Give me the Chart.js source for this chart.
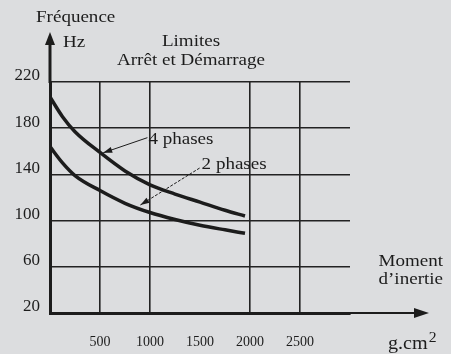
<!DOCTYPE html>
<html>
<head>
<meta charset="utf-8">
<script src="https://cdn.jsdelivr.net/npm/chart.js@4"></script>
<style>
  html, body { margin: 0; padding: 0; background: #dcdddf; }
  #wrap { width: 451px; height: 354px; }
</style>
</head>
<body>
<div id="wrap"><canvas id="c" width="451" height="354"></canvas></div>
<script>
// ---- data ----
const inertia = [0, 125, 250, 500, 750, 1000, 1250, 1500, 1750, 1950];      // g.cm²
const phases4 = [207, 190, 177, 159, 143, 131, 123, 116, 109, 104];       // Hz
const phases2 = [164, 150, 139, 126, 115, 107, 101, 96, 92, 89];          // Hz
const xTickLabels = [500, 1000, 1500, 2000, 2500];
const yTickLabels = [20, 60, 100, 140, 180, 220];
const xGridHidden = [0, 1500, 3000];
// annotation anchors (data coordinates)
const label4 = { text: '4 phases', from: [974, 171.8], to: [532, 158.7] };
const label2 = { text: '2 phases', from: [1496, 145.5], to: [904, 113.5] };

const INK = '#1c1c1c';
const SERIF = '"Liberation Serif", "Times New Roman", serif';

function toPts(xs, ys) { return xs.map((x, i) => ({ x: x, y: ys[i] })); }

// draws text stretched horizontally, returns right edge x
function txt(ctx, s, x, y, align, size) {
  ctx.save();
  ctx.font = size + 'px ' + SERIF;
  ctx.fillStyle = INK;
  ctx.textBaseline = 'alphabetic';
  const sx = 1.12;
  const w = ctx.measureText(s).width * sx;
  let left = x;
  if (align === 'center') left = x - w / 2;
  else if (align === 'right') left = x - w;
  ctx.translate(left, y);
  ctx.scale(sx, 1);
  ctx.textAlign = 'left';
  ctx.fillText(s, 0, 0);
  ctx.restore();
  return left + w;
}

function arrowHead(ctx, x1, y1, x2, y2, len, half) {
  const a = Math.atan2(y2 - y1, x2 - x1);
  ctx.beginPath();
  ctx.moveTo(x2, y2);
  ctx.lineTo(x2 - len * Math.cos(a) + half * Math.sin(a), y2 - len * Math.sin(a) - half * Math.cos(a));
  ctx.lineTo(x2 - len * Math.cos(a) - half * Math.sin(a), y2 - len * Math.sin(a) + half * Math.cos(a));
  ctx.closePath();
  ctx.fill();
}

const bgPlugin = {
  id: 'bg',
  beforeDraw(chart) {
    const ctx = chart.ctx;
    ctx.save();
    ctx.fillStyle = '#dcdddf';
    ctx.fillRect(0, 0, chart.width, chart.height);
    ctx.restore();
  }
};

const decoPlugin = {
  id: 'deco',
  afterDraw(chart) {
    const ctx = chart.ctx;
    const ca = chart.chartArea;
    const xs = chart.scales.x, ys = chart.scales.y;
    ctx.save();
    ctx.strokeStyle = INK;
    ctx.fillStyle = INK;
    // y axis extension + arrow
    ctx.lineWidth = 3;
    ctx.beginPath();
    ctx.moveTo(ca.left, ca.top + 1);
    ctx.lineTo(ca.left, 42);
    ctx.stroke();
    arrowHead(ctx, ca.left, 60, ca.left, 32, 13, 5);
    // x axis extension + arrow
    ctx.lineWidth = 2.2;
    ctx.beginPath();
    ctx.moveTo(ca.right - 1, ca.bottom);
    ctx.lineTo(416, ca.bottom);
    ctx.stroke();
    arrowHead(ctx, 380, ca.bottom, 429, ca.bottom, 15, 5);

    // annotation arrows
    const P = (p) => [xs.getPixelForValue(p[0]), ys.getPixelForValue(p[1])];
    let a = P(label4.from), b = P(label4.to);
    ctx.lineWidth = 1;
    ctx.beginPath(); ctx.moveTo(a[0], a[1]); ctx.lineTo(b[0], b[1]); ctx.stroke();
    arrowHead(ctx, a[0], a[1], b[0], b[1], 9, 3);
    txt(ctx, label4.text, a[0] + 1, a[1] + 6, 'left', 17);

    a = P(label2.from); b = P(label2.to);
    ctx.setLineDash([3, 1.5]);
    ctx.beginPath(); ctx.moveTo(a[0], a[1]); ctx.lineTo(b[0], b[1]); ctx.stroke();
    ctx.setLineDash([]);
    arrowHead(ctx, a[0], a[1], b[0], b[1], 9, 3);
    txt(ctx, label2.text, a[0] + 2, a[1] + 1, 'left', 17);

    // titles / axis names
    txt(ctx, 'Fréquence', 36, 22, 'left', 17);
    txt(ctx, 'Hz', 63, 47, 'left', 17);
    txt(ctx, 'Limites', 191, 46, 'center', 17);
    txt(ctx, 'Arrêt et Démarrage', 191, 65, 'center', 17);
    txt(ctx, 'Moment', 443, 266, 'right', 17);
    txt(ctx, 'd\u2019inertie', 443, 284, 'right', 17);
    const r = txt(ctx, 'g.cm', 388, 349, 'left', 18);
    txt(ctx, '2', r + 1, 342, 'left', 14);
    ctx.restore();
  }
};

new Chart(document.getElementById('c'), {
  type: 'line',
  data: {
    datasets: [
      { label: '4 phases', data: toPts(inertia, phases4), borderColor: INK, borderWidth: 3.5,
        pointRadius: 0, cubicInterpolationMode: 'monotone', fill: false },
      { label: '2 phases', data: toPts(inertia, phases2), borderColor: INK, borderWidth: 3.5,
        pointRadius: 0, cubicInterpolationMode: 'monotone', fill: false }
    ]
  },
  options: {
    responsive: false,
    animation: false,
    events: [],
    layout: { padding: { top: 82, right: 101, left: 0, bottom: 0 } },
    plugins: { legend: { display: false }, tooltip: { enabled: false }, title: { display: false } },
    scales: {
      x: {
        type: 'linear', min: 0, max: 3000,
        afterFit(s) { s.height = 41; },
        afterBuildTicks(s) { s.ticks = [0, 500, 1000, 1500, 2000, 2500, 3000].map(v => ({ value: v })); },
        ticks: {
          padding: 21, color: INK, maxRotation: 0, autoSkip: false,
          font: { family: SERIF, size: 14 },
          callback: (v) => xTickLabels.includes(v) ? String(v) : ''
        },
        grid: {
          drawTicks: false, lineWidth: 1.6,
          color: (c) => (c.tick && xGridHidden.includes(c.tick.value)) ? 'rgba(0,0,0,0)' : '#222'
        },
        border: { display: true, color: INK, width: 3 }
      },
      y: {
        type: 'linear', min: 20, max: 220,
        afterFit(s) { s.width = 50; },
        afterBuildTicks(s) { s.ticks = yTickLabels.map(v => ({ value: v })); },
        ticks: {
          padding: 10, color: INK, labelOffset: -6,
          font: { family: SERIF, size: 17 },
          callback: (v) => String(v)
        },
        grid: { drawTicks: false, lineWidth: 1.6, color: '#222' },
        border: { display: true, color: INK, width: 3 }
      }
    }
  },
  plugins: [bgPlugin, decoPlugin]
});
</script>
</body>
</html>
